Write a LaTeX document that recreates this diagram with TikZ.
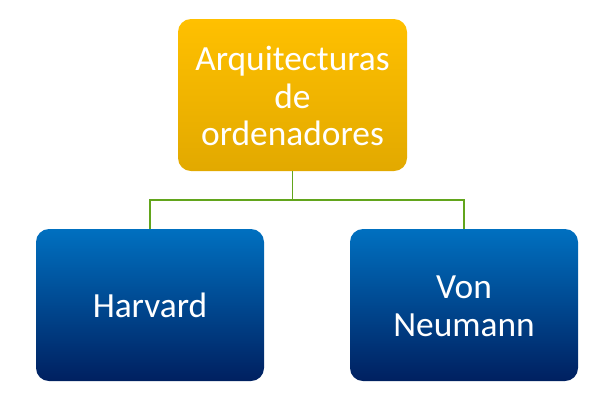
\documentclass[tikz,border=0pt]{standalone}
\usepackage{fontspec}
\setmainfont{Carlito}
\begin{document}
\begin{tikzpicture}[x=1bp,y=-1bp,
  goldbox/.style={rounded corners=13bp, top color=goldtop, bottom color=goldbot, draw=none},
  bluebox/.style={rounded corners=13bp, top color=bluetop, bottom color=bluebot, draw=none},
  lbl/.style={text=white, font=\fontsize{35.5}{38}\selectfont, align=center, inner sep=0pt},
  conn/.style={draw=linkgreen, line width=1.2bp}]
\definecolor{goldtop}{HTML}{FFC000}
\definecolor{goldbot}{HTML}{E2A900}
\definecolor{bluetop}{HTML}{0070C0}
\definecolor{bluebot}{HTML}{002060}
\definecolor{linkgreen}{HTML}{62A51C}
\useasboundingbox (0,0) rectangle (613,400);
\path[goldbox] (178,19) rectangle (407,171);
\path[bluebox] (36,229) rectangle (264,381);
\path[bluebox] (350,229) rectangle (578,381);
\node[lbl] (top) at (292.5,96) {Arquitecturas\\de\\ordenadores};
\node[lbl] (harv) at (150,305) {Harvard};
\node[lbl] (vonn) at (464,306) {Von\\Neumann};
\coordinate (tb) at (292.5,171);
\coordinate (lb) at (150,229);
\coordinate (rb) at (464,229);
\draw[conn] (tb) -- (292.5,200) -| (lb);
\draw[conn] (292.5,200) -| (rb);
\end{tikzpicture}
\end{document}
